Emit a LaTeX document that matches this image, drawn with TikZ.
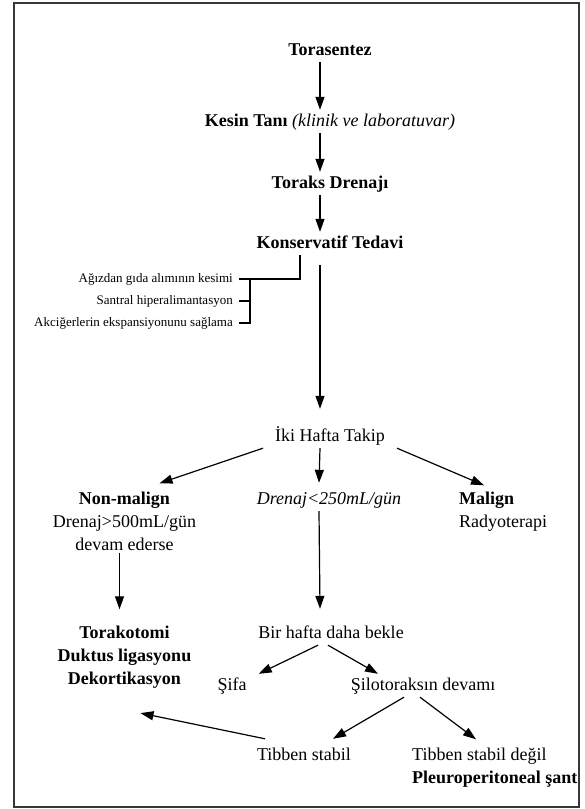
\documentclass[tikz,border=0pt]{standalone}
\usepackage{fontspec}
\setmainfont{Liberation Serif}
\usepackage{tikz}
\usetikzlibrary{arrows.meta,positioning}
\usepackage{xcolor}
\definecolor{framegray}{RGB}{55,55,55}

\begin{document}
\begin{tikzpicture}[
      x=1pt,y=-1pt,
      entry/.style={anchor=base,inner xsep=12pt,inner ysep=3pt,text height=13pt,text depth=4pt,
                    font=\fontsize{18}{23}\selectfont},
      stack/.style={anchor=base,inner xsep=12pt,inner ysep=3pt,align=center,
                    font=\fontsize{18}{23}\selectfont},
      note/.style={anchor=east,inner xsep=6pt,inner ysep=2pt,text height=9pt,text depth=3pt,
                   font=\fontsize{13}{16}\selectfont},
      arrow/.style={-{Triangle[length=13pt,width=9pt]},line width=1.2pt},
      brace/.style={line width=1.2pt}
  ]
    \useasboundingbox (0,0) rectangle (585,809);
    \draw[framegray,line width=1.6pt] (14,3) rectangle (579,807);

    \node[entry] (tor) at (330,55)  {\textbf{Torasentez}};
    \node[entry] (kes) at (330,126) {\textbf{Kesin Tanı} \textit{(klinik ve laboratuvar)}};
    \node[entry] (dre) at (330,188) {\textbf{Toraks Drenajı}};
    \node[entry] (kon) at (330,248) {\textbf{Konservatif Tedavi}};

    \node[note] (a1) at (239,279) {Ağızdan gıda alımının kesimi};
    \node[note] (a2) at (239,301) {Santral hiperalimantasyon};
    \node[note] (a3) at (239,323) {Akciğerlerin ekspansiyonunu sağlama};

    \node[entry] (iki) at (330,441) {İki Hafta Takip};

    % multi-line nodes sit on their last line
    \node[stack] (nonmal) at (124.5,550) {\textbf{Non-malign}\\Drenaj>500mL/gün\\devam ederse};
    \node[entry] (dlow) at (329,504) {\textit{Drenaj<250mL/gün}};
    \node[stack,align=left,anchor=base west] (mal) at (447,527) {\textbf{Malign}\\Radyoterapi};

    \node[stack] (tora) at (124.5,684) {\textbf{Torakotomi}\\\textbf{Duktus ligasyonu}\\\textbf{Dekortikasyon}};
    \node[entry] (bir) at (331,638) {Bir hafta daha bekle};

    \node[entry] (sifa) at (232,690) {Şifa};
    \node[entry] (silo) at (423,690) {Şilotoraksın devamı};

    \node[entry] (tib) at (304,760) {Tibben stabil};
    \node[stack,align=left,anchor=base west] (tibd) at (400,783) {Tibben stabil değil\\\textbf{Pleuroperitoneal şant}};

    % main column
    \draw[arrow] ([xshift=-10pt]tor.south) -- ([xshift=-10pt]kes.north);
    \draw[arrow] ([xshift=-10pt]kes.south) -- ([xshift=-10pt]dre.north);
    \draw[arrow] ([xshift=-10pt]dre.south) -- ([xshift=-10pt]kon.north);
    \draw[arrow] ([xshift=-10pt,yshift=-10pt]kon.south) -- ([xshift=-10pt,yshift=16pt]iki.north);

    % conservative measures
    \draw[brace] ([xshift=-30pt]kon.south) |- (a1.east);
    \coordinate (bk) at ([xshift=11pt]a1.east);
    \draw[brace] (bk) |- (a3.east);
    \draw[brace] (a2.east) -- (a2.east -| bk);

    % two week follow-up
    \draw[arrow] (iki.south west) -- ([xshift=35pt,yshift=5pt]nonmal.north);
    \draw[arrow] ([xshift=-10pt]iki.south) -- ([xshift=-10pt,yshift=5pt]dlow.north);
    \draw[arrow] (iki.south east) -- ([xshift=37pt,yshift=3pt]mal.north west);

    \draw[arrow] ([xshift=-5pt]nonmal.south) -- ([xshift=-5pt,yshift=13pt]tora.north);
    \draw[arrow] ([xshift=-10pt]dlow.south) -- ([xshift=-11pt,yshift=13pt]bir.north);

    \draw[arrow] ([xshift=-13pt]bir.south) -- (sifa.north east);
    \draw[arrow] ([xshift=-3pt]bir.south) -- ([xshift=-45pt]silo.north);

    \draw[arrow] ([xshift=-19pt]silo.south) -- ([xshift=29pt,yshift=5pt]tib.north);
    \draw[arrow] ([xshift=-3pt]silo.south) -- ([xshift=76pt,yshift=5pt]tibd.north west);
    \draw[arrow] ([xshift=-39pt,yshift=5pt]tib.north) -- ([xshift=16pt,yshift=-22pt]tora.south);
  \end{tikzpicture}
\end{document}
